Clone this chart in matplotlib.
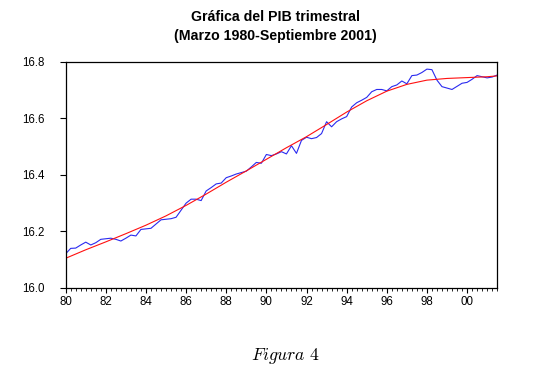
import matplotlib
matplotlib.use("Agg")
import matplotlib.pyplot as plt
from matplotlib.ticker import MultipleLocator, FixedLocator
import numpy as np

plt.rcParams['font.family'] = ['Liberation Sans', 'DejaVu Sans']
plt.rcParams['mathtext.fontset'] = 'cm'

start_year = 1980.0
# Quarterly log GDP, 1980Q1 .. 2001Q3
pib = [16.121, 16.140, 16.141, 16.152, 16.162, 16.152, 16.160, 16.172,
       16.174, 16.176, 16.172, 16.166, 16.176, 16.187, 16.184, 16.207,
       16.209, 16.211, 16.226, 16.241, 16.243, 16.245, 16.250, 16.275,
       16.300, 16.314, 16.314, 16.309, 16.343, 16.355, 16.368, 16.371,
       16.390, 16.396, 16.403, 16.408, 16.413, 16.428, 16.444, 16.441,
       16.472, 16.468, 16.474, 16.482, 16.474, 16.503, 16.476, 16.522,
       16.533, 16.528, 16.532, 16.546, 16.588, 16.570, 16.588, 16.598,
       16.606, 16.640, 16.655, 16.664, 16.674, 16.694, 16.702, 16.702,
       16.697, 16.712, 16.718, 16.732, 16.722, 16.751, 16.753, 16.762,
       16.774, 16.772, 16.735, 16.712, 16.707, 16.702, 16.713, 16.724,
       16.727, 16.738, 16.751, 16.747, 16.743, 16.746, 16.753]

# Fitted trend (read at yearly points)
trend_x = [1980, 1981, 1982, 1983, 1984, 1985, 1986, 1987, 1988, 1989,
           1990, 1991, 1992, 1993, 1994, 1995, 1996, 1997, 1998, 1999,
           2000, 2001, 2001.5]
trend = [16.105, 16.135, 16.163, 16.192, 16.222, 16.255, 16.292, 16.332,
         16.374, 16.414, 16.455, 16.496, 16.535, 16.578, 16.622, 16.662,
         16.696, 16.720, 16.735, 16.741, 16.744, 16.747, 16.750]

xticklabels = ['80', '82', '84', '86', '88', '90', '92', '94', '96', '98', '00']
yticks = [16.0, 16.2, 16.4, 16.6, 16.8]

x = start_year + np.arange(len(pib)) / 4.0

fig = plt.figure(figsize=(5.34, 3.86), dpi=100)
ax = fig.add_axes([0.123, 0.254, 0.808, 0.586])

ax.plot(x, pib, color='#2a2af0', lw=0.8)
ax.plot(trend_x, trend, color='#ff1010', lw=0.8)

ax.set_xlim(1980, 2001.5)
ax.set_ylim(16.0, 16.8)
ax.set_yticks(yticks)
ax.set_yticklabels([f'{v:.1f}' for v in yticks])
ax.xaxis.set_major_locator(FixedLocator(np.arange(1980, 2001, 2)))
ax.set_xticklabels(xticklabels)
ax.xaxis.set_minor_locator(MultipleLocator(0.25))

for s in ax.spines.values():
    s.set_linewidth(0.9)
ax.tick_params(axis='both', which='major', labelsize=8.3, width=0.8, direction='out')
ax.tick_params(axis='x', which='major', length=3.8, pad=2)
ax.tick_params(axis='x', which='minor', length=2.2, width=0.6)
ax.tick_params(axis='y', which='major', length=4.3, pad=11)
ax.tick_params(top=False, right=False)

fig.text(0.515, 0.955, 'Gráfica del PIB trimestral', ha='center', va='center',
         fontsize=10.2, fontweight='bold')
fig.text(0.515, 0.906, '(Marzo 1980-Septiembre 2001)', ha='center', va='center',
         fontsize=10.2, fontweight='bold')
fig.text(0.535, 0.078, r'$Figura\ 4$', ha='center', va='center', fontsize=12.7)

fig.savefig('out.png', dpi=100)
